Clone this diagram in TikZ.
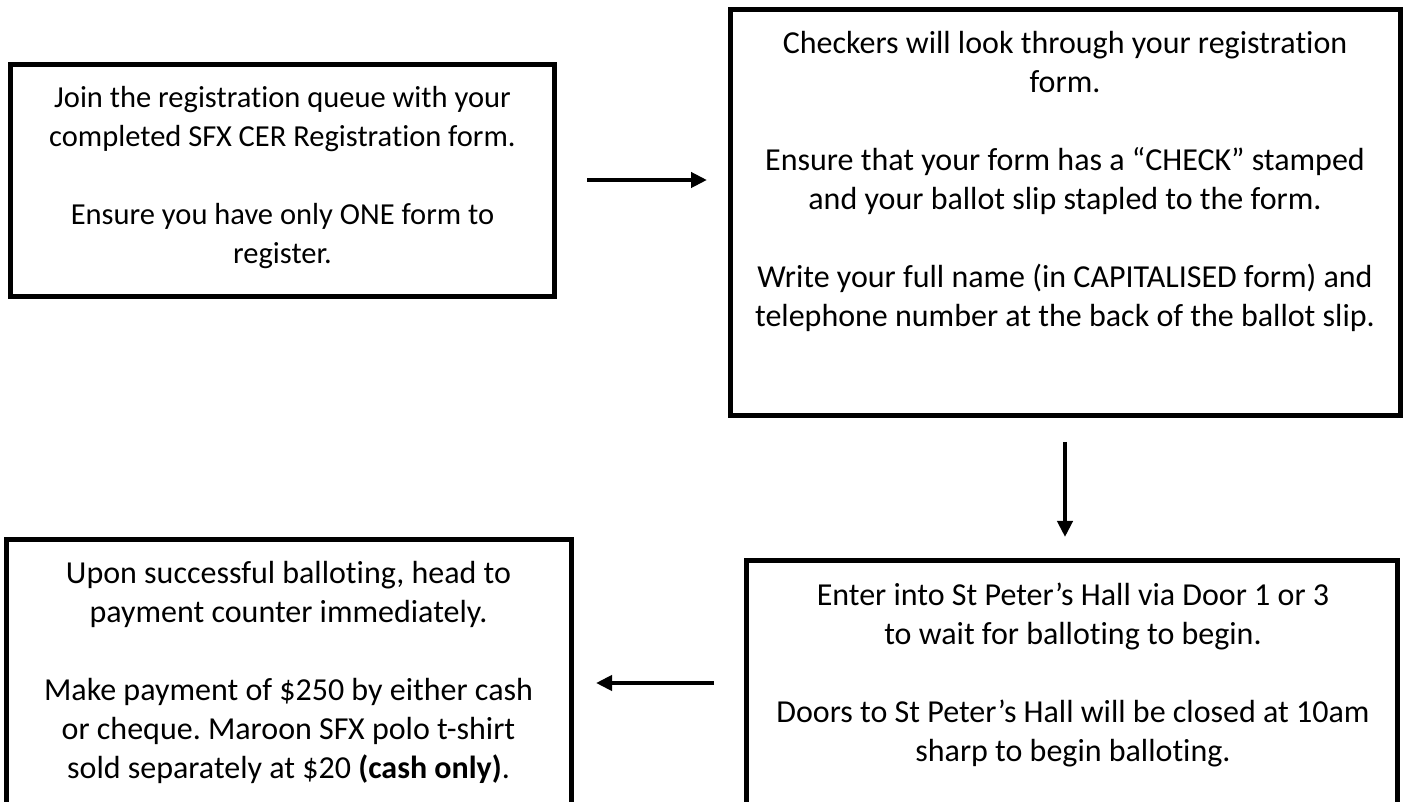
\documentclass[tikz,border=0pt]{standalone}
\usepackage{fontspec}
\setmainfont{Carlito}[Ligatures=NoCommon]
\usetikzlibrary{arrows.meta}
\newcommand{\fl}{\rule{0pt}{27pt}}
\begin{document}
\frenchspacing
\begin{tikzpicture}[x=1pt,y=1pt,
  box/.style={draw=black, line width=5pt, inner sep=0pt},
  txt/.style={align=center, inner sep=0pt, anchor=north, font=\fontsize{32}{39}\selectfont},
  txtA/.style={txt, font=\fontsize{30.5}{39}\selectfont},
  arr/.style={line width=4pt, -{Triangle[length=16pt,width=15pt]}}]
\useasboundingbox (0,0) rectangle (1406,801);
\clip (0,0) rectangle (1406,801);
% boxes
\node[box, minimum width=544pt, minimum height=232pt] (b1) at (282.5,620) {};
\node[box, minimum width=670pt, minimum height=406pt] (b2) at (1065,588) {};
\node[box, minimum width=651pt, minimum height=269pt] (b3) at (1071.5,105.5) {};
\node[box, minimum width=565pt, minimum height=290pt] (b4) at (288.5,116) {};
% texts (first baseline 27pt below the north anchor)
\node[txtA] (t1) at (282.5,721) {\fl Join the registration queue with your\\completed SFX CER Registration form.\\[39pt]Ensure you have only ONE form to\\register.};
\node[txt] (t2) at (1065,775) {\fl Checkers will look through your registration\\form.\\[39pt]Ensure that your form has a “CHECK” stamped\\and your ballot slip stapled to the form.\\[39pt]Write your full name (in CAPITALISED form) and\\telephone number at the back of the ballot slip.};
\node[txt] (t3) at (1073,223) {\fl Enter into St Peter’s Hall via Door 1 or 3\\to wait for balloting to begin.\\[39pt]Doors to St Peter’s Hall will be closed at 10am\\sharp to begin balloting.};
\node[txt] (t4) at (288.5,245) {\fl Upon successful balloting, head to\\payment counter immediately.\\[39pt]Make payment of \$250 by either cash\\or cheque. Maroon SFX polo t-shirt\\sold separately at \$20 \textbf{(cash only)}.};
% arrows
\coordinate (a1s) at (587,621);
\coordinate (a1e) at (707,621);
\coordinate (a2s) at (1065,359);
\coordinate (a2e) at (1065,264);
\coordinate (a3s) at (714,118);
\coordinate (a3e) at (596,118);
\draw[arr] (a1s) -- (a1e);
\draw[arr] (a2s) -- (a2e);
\draw[arr] (a3s) -- (a3e);
\end{tikzpicture}
\end{document}
